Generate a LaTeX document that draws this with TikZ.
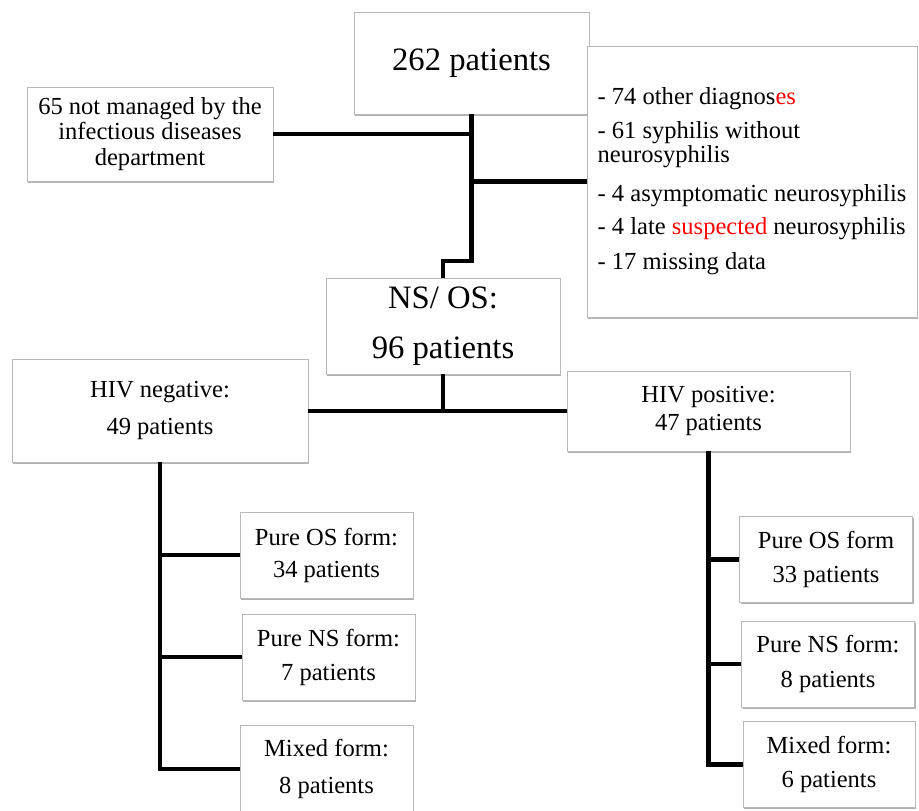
\documentclass[tikz,border=0pt]{standalone}
\usepackage{fontspec}
\setmainfont{Liberation Serif}
\usetikzlibrary{shadows}
\begin{document}
\begin{tikzpicture}[x=0.75pt,y=-0.75pt,
    box/.style={draw=gray!55, line width=0.6pt, fill=white, align=center, inner sep=0pt,
        drop shadow={shadow xshift=1pt, shadow yshift=-1.2pt, opacity=0.3, fill=black}},
    formbox/.style={box, minimum width=129.75pt, minimum height=64.5pt},
    small/.style={font=\fontsize{18.4}{19}\selectfont},
    big/.style={font=\fontsize{24.5}{30}\selectfont},
    conn/.style={line width=3.3pt}]
    \useasboundingbox (0,0) rectangle (919,810);
    \clip (0,0) rectangle (919,810);

    % Top level
    \node[box, big, minimum width=176.25pt, minimum height=76.5pt] (total) at (471.5,63) {262 patients};
    \node[box, small, minimum width=184.5pt, minimum height=70.5pt] (notmanaged) at (150,134)
        {65 not managed by the\\ infectious diseases\\ department};
    \node[box, small, font=\fontsize{18.4}{18}\selectfont, minimum width=247.5pt, minimum height=203.25pt,
        align=left] (excl) at (752,181.5)
        {- 74 other diagnos\textcolor{red}{es}\\[7.5pt]
         - 61 syphilis without\\ neurosyphilis\\[11.25pt]
         - 4 asymptomatic neurosyphilis\\[6.75pt]
         - 4 late \textcolor{red}{suspected} neurosyphilis\\[8.25pt]
         - 17 missing data};

    % NS/OS
    \node[box, big, minimum width=175.5pt, minimum height=72pt] (nsos) at (443,326)
        {NS/ OS:\\[7.5pt] 96 patients};

    % HIV status
    \node[box, small, minimum width=222pt, minimum height=77.25pt] (hivneg) at (160,410.5)
        {HIV negative:\\[8.5pt] 49 patients};
    \node[box, small, minimum width=212.25pt, minimum height=60pt] (hivpos) at (708.5,411)
        {HIV positive:\\[2pt] 47 patients};

    % Forms, HIV negative
    \node[formbox, small] (osneg) at (326.5,555) {Pure OS form:\\[5pt] 34 patients};
    \node[formbox, small] (nsneg) at (328.5,657) {Pure NS form:\\[6.5pt] 7 patients};
    \node[formbox, small, minimum height=66pt] (mixneg) at (326.5,769) {Mixed form:\\[8.5pt] 8 patients};

    % Forms, HIV positive
    \node[formbox, small] (ospos) at (826,559.5) {Pure OS form\\[7pt] 33 patients};
    \node[formbox, small] (nspos) at (828,664) {Pure NS form:\\[7pt] 8 patients};
    \node[formbox, small, minimum width=129pt] (mixpos) at (829,764.5) {Mixed form:\\[7pt] 6 patients};

    % Connectors
    \coordinate (jog) at (471.5,261);
    \coordinate (split) at (443,411);
    \draw[conn] (total.south) -- (jog) -| (nsos.north);
    \draw[conn] (notmanaged.east) -- (notmanaged.east -| total.south);
    \draw[conn] (excl.west) -- (excl.west -| total.south);
    \draw[conn] (nsos.south) -- (split);
    \draw[conn] (hivneg.east |- split) -- (hivpos.west |- split);

    \draw[conn] (hivneg.south) |- (mixneg.west);
    \draw[conn] (hivneg.south |- osneg.west) -- (osneg.west);
    \draw[conn] (hivneg.south |- nsneg.west) -- (nsneg.west);

    \draw[conn] (hivpos.south) |- (mixpos.west);
    \draw[conn] (hivpos.south |- ospos.west) -- (ospos.west);
    \draw[conn] (hivpos.south |- nspos.west) -- (nspos.west);
\end{tikzpicture}
\end{document}
